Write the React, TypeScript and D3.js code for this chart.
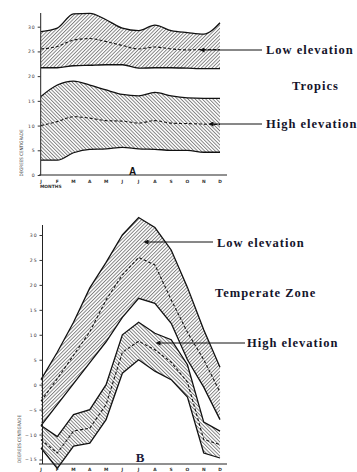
import React, { useEffect, useRef } from 'react';
import * as d3 from 'd3';

const months = ['J', 'F', 'M', 'A', 'M', 'J', 'J', 'A', 'S', 'O', 'N', 'D'];

// Tropics (chart A)
const tropicsLowUpper = [29, 29.7, 32.6, 32.7, 31.4, 29.7, 29.2, 30.3, 29.2, 28.8, 28.5, 30.8];
const tropicsLowMean = [25.5, 26, 27.3, 27.6, 27, 26.2, 25.5, 25.9, 25.5, 25.3, 25.4, 25.4];
const tropicsLowLower = [21.7, 21.7, 22.1, 22.2, 22.3, 22.3, 21.6, 21.7, 21.7, 21.6, 21.5, 21.5];
const tropicsHighUpper = [15.9, 18.2, 19, 18.2, 17.2, 16.3, 16, 16.7, 16, 15.6, 15.5, 15.5];
const tropicsHighMean = [10, 10.8, 11.8, 11.5, 11, 10.9, 10.5, 11, 10.5, 10.4, 10.3, 10.2];
const tropicsHighLower = [3, 3, 4.5, 5.2, 5.3, 5.6, 5.3, 5.2, 5, 5, 4.6, 4.6];

// Temperate zone (chart B)
const tempLowUpper = [1, 6.5, 12.5, 19.4, 24.5, 30, 33.5, 31.5, 27, 19.5, 11, 3.5];
const tempLowMean = [-3.3, 1.2, 5.9, 10.6, 17, 22, 25.5, 24, 17, 10.5, 5, -1.5];
const tempLowLower = [-8.2, -4, 0.2, 4.4, 8.6, 13.5, 17.3, 16.3, 12.3, 5, -0.5, -7];
const tempHighUpper = [-8.2, -10.4, -6, -5, 0, 10, 12.5, 10.3, 9, 4, -7.5, -9.3];
const tempHighMean = [-11, -13.7, -9.3, -8.7, -4, 6.5, 8.7, 7, 4.5, 0.5, -11, -12];
const tempHighLower = [-12.7, -16.8, -12.3, -11.7, -7, 2.3, 5, 2.7, 1, -2.5, -13.7, -14.7];

const tropicsTicks = [0, 5, 10, 15, 20, 25, 30];
const tempTicks = [-15, -10, -5, 0, 5, 10, 15, 20, 25, 30];

const W = 357;
const H = 472;
const LABEL_FONT = '"Liberation Serif", "DejaVu Serif", serif';
const SMALL_FONT = '"DejaVu Sans", sans-serif';

function App() {
    const svgRef = useRef(null);

    useEffect(() => {
        if (!svgRef.current) return;
        const svg = d3.select(svgRef.current);
        svg.selectAll('*').remove();

        svg.append('rect').attr('width', W).attr('height', H).attr('fill', '#fff');

        // hatch patterns
        const defs = svg.append('defs');
        const hatch = (id, angle) => {
            const p = defs.append('pattern')
                .attr('id', id)
                .attr('patternUnits', 'userSpaceOnUse')
                .attr('width', 2.5)
                .attr('height', 10)
                .attr('patternTransform', `rotate(${angle})`);
            p.append('line')
                .attr('x1', 0.5).attr('y1', 0).attr('x2', 0.5).attr('y2', 10)
                .attr('stroke', '#444').attr('stroke-width', 0.7);
        };
        hatch('hatchUp', 45);
        hatch('hatchDown', -45);

        const marker = defs.append('marker')
            .attr('id', 'arrowHead')
            .attr('viewBox', '0 0 10 10')
            .attr('refX', 1).attr('refY', 5)
            .attr('markerWidth', 7).attr('markerHeight', 5)
            .attr('markerUnits', 'userSpaceOnUse')
            .attr('orient', 'auto-start-reverse');
        marker.append('path').attr('d', 'M0,0 L10,5 L0,10 Z').attr('fill', '#111');

        const x = d3.scaleLinear().domain([0, 11]).range([41, 220]);

        const drawBand = (g, y, upper, mean, lower, patternId, curve) => {
            const idx = d3.range(months.length);
            const area = d3.area()
                .x(i => x(i))
                .y0(i => y(lower[i]))
                .y1(i => y(upper[i]))
                .curve(curve);
            g.append('path').datum(idx).attr('d', area).attr('fill', `url(#${patternId})`);
            const line = arr => d3.line().x(i => x(i)).y(i => y(arr[i])).curve(curve)(idx);
            g.append('path').attr('d', line(upper)).attr('fill', 'none')
                .attr('stroke', '#111').attr('stroke-width', 1.3);
            g.append('path').attr('d', line(lower)).attr('fill', 'none')
                .attr('stroke', '#111').attr('stroke-width', 1.3);
            g.append('path').attr('d', line(mean)).attr('fill', 'none')
                .attr('stroke', '#111').attr('stroke-width', 1.1)
                .attr('stroke-dasharray', '3,2');
        };

        const drawAxes = (y, ticks, axisX, top, bottom, monthY) => {
            const g = svg.append('g');
            g.append('line').attr('x1', axisX).attr('x2', axisX).attr('y1', top).attr('y2', bottom)
                .attr('stroke', '#222').attr('stroke-width', 1);
            g.append('line').attr('x1', 39).attr('x2', 227).attr('y1', bottom).attr('y2', bottom)
                .attr('stroke', '#222').attr('stroke-width', 1);
            const ax = g.append('g').attr('transform', `translate(${axisX},0)`)
                .call(d3.axisLeft(y).tickValues(ticks).tickSize(3).tickPadding(2));
            ax.select('.domain').remove();
            ax.selectAll('line').attr('stroke', '#333');
            ax.selectAll('text')
                .style('font-family', SMALL_FONT).attr('font-size', 4.6)
                .attr('letter-spacing', 0.9).attr('fill', '#333');
            g.selectAll('.month').data(months).enter().append('text')
                .attr('x', (d, i) => x(i)).attr('y', monthY)
                .attr('text-anchor', 'middle')
                .style('font-family', SMALL_FONT).attr('font-size', 4.4).attr('font-weight', 'bold')
                .attr('fill', '#333')
                .text(d => d);
        };

        const yTitle = (cx, cy, len) => {
            svg.append('text')
                .attr('transform', `translate(${cx},${cy}) rotate(-90)`)
                .attr('text-anchor', 'middle')
                .style('font-family', SMALL_FONT).attr('font-size', 4.6)
                .attr('textLength', len).attr('lengthAdjust', 'spacingAndGlyphs')
                .attr('fill', '#333')
                .text('DEGREES CENTIGRADE');
        };

        const label = (tx, ty, text) => {
            svg.append('text').attr('x', tx).attr('y', ty)
                .style('font-family', LABEL_FONT).attr('font-size', 12.5).attr('font-weight', 'bold')
                .attr('letter-spacing', 1)
                .attr('fill', '#14142a').text(text);
        };

        const arrow = (x1, x2, ay) => {
            svg.append('line').attr('x1', x2).attr('x2', x1 + 5).attr('y1', ay).attr('y2', ay)
                .attr('stroke', '#111').attr('stroke-width', 1)
                .attr('marker-end', 'url(#arrowHead)');
        };

        // Chart A: tropics
        const yA = d3.scaleLinear().domain([0, 30]).range([175, 26.7]);
        const gA = svg.append('g');
        drawBand(gA, yA, tropicsLowUpper, tropicsLowMean, tropicsLowLower, 'hatchUp', d3.curveMonotoneX);
        drawBand(gA, yA, tropicsHighUpper, tropicsHighMean, tropicsHighLower, 'hatchDown', d3.curveMonotoneX);
        drawAxes(yA, tropicsTicks, 40.7, 13, 175, 182.5);
        svg.append('text').attr('x', 40).attr('y', 188)
            .style('font-family', SMALL_FONT).attr('font-size', 4.4).attr('font-weight', 'bold')
            .attr('fill', '#333').text('MONTHS');
        yTitle(23, 153, 47);
        svg.append('text').attr('x', 132.5).attr('y', 174.5).attr('text-anchor', 'middle')
            .style('font-family', '"Liberation Sans", Arial, sans-serif').attr('font-size', 10)
            .attr('font-weight', 'bold').attr('fill', '#111').text('A');
        arrow(199, 262, 50);
        label(266, 53.5, 'Low elevation');
        label(292, 89.5, 'Tropics');
        arrow(208, 262, 124);
        label(266, 127.5, 'High elevation');

        // Chart B: temperate zone
        const yB = d3.scaleLinear().domain([-15, 30]).range([459.5, 235]);
        const gB = svg.append('g');
        drawBand(gB, yB, tempLowUpper, tempLowMean, tempLowLower, 'hatchUp', d3.curveLinear);
        drawBand(gB, yB, tempHighUpper, tempHighMean, tempHighLower, 'hatchDown', d3.curveLinear);
        drawAxes(yB, tempTicks, 42.5, 225, 464, 470.5);
        yTitle(21, 439, 48);
        svg.append('text').attr('x', 140).attr('y', 461.5).attr('text-anchor', 'middle')
            .style('font-family', LABEL_FONT).attr('font-size', 13)
            .attr('font-weight', 'bold').attr('fill', '#1b1b3a').text('B');
        arrow(143, 213, 242);
        label(217, 246.5, 'Low elevation');
        label(215, 296.5, 'Temperate Zone');
        arrow(155, 245, 343);
        label(247, 346.5, 'High elevation');
    }, []);

    return (
        <svg ref={svgRef} width={W} height={H}
            style={{ position: 'absolute', left: 0, top: 0, display: 'block' }} />
    );
}

export default App;
